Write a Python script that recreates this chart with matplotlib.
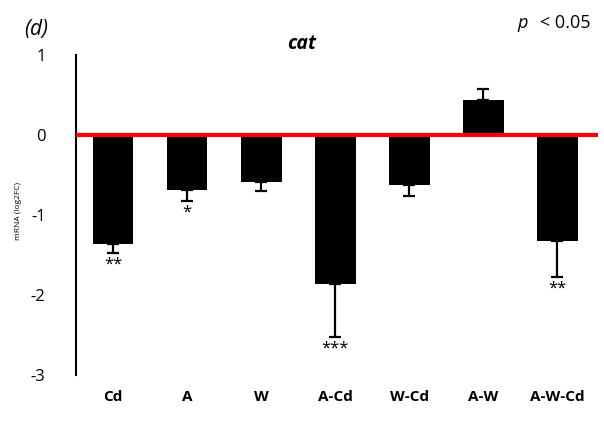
import matplotlib
matplotlib.use("Agg")
import matplotlib.pyplot as plt
import numpy as np

groups = ["Cd", "A", "W", "A-Cd", "W-Cd", "A-W", "A-W-Cd"]
log2fc = [-1.36, -0.68, -0.58, -1.86, -0.62, 0.44, -1.32]
errors = [0.11, 0.14, 0.12, 0.66, 0.14, 0.14, 0.45]
stars = ["**", "*", "", "***", "", "", "**"]

plt.rcParams["font.family"] = ["Open Sans", "DejaVu Sans"]

fig = plt.figure(figsize=(6.04, 4.21), dpi=100)
ax = fig.add_axes([0.126, 0.109, 0.864, 0.76])

x = np.arange(len(groups))
vals = np.array(log2fc)
errs = np.array(errors)
lower = np.where(vals < 0, errs, 0)
upper = np.where(vals >= 0, errs, 0)

ax.bar(x, vals, width=0.55, color="black", zorder=2)
ax.errorbar(x, vals, yerr=[lower, upper], fmt="none", ecolor="black",
            elinewidth=1.6, capsize=4.5, capthick=1.6, zorder=3)
ax.axhline(0, color="red", lw=3, zorder=4)

for xi, v, e, s in zip(x, vals, errs, stars):
    if s:
        ax.annotate(s, (xi, v - e), xytext=(0, -3), textcoords="offset points",
                    ha="center", va="top", fontsize=12)

ax.set_xlim(-0.5, len(groups) - 0.45)
ax.set_ylim(-3, 1)
ax.set_yticks([-3, -2, -1, 0, 1])
ax.set_yticklabels(["-3", "-2", "-1", "0", "1"], fontsize=12)
ax.tick_params(axis="y", length=0, pad=22)
ax.set_xticks([])
for xi, g in zip(x, groups):
    ax.text(xi, -3.27, g, ha="center", va="center", fontsize=11, fontweight="bold")

for side in ["top", "right", "bottom"]:
    ax.spines[side].set_visible(False)
ax.spines["left"].set_linewidth(1.5)

fig.text(0.03, 0.5, "mRNA (log2FC)", rotation=90, ha="center", va="center", fontsize=6)
fig.text(0.5, 0.895, "cat", ha="center", va="center", fontsize=14,
         fontweight="bold", fontstyle="italic")
fig.text(0.04, 0.93, "(d)", ha="left", va="center", fontsize=15, fontstyle="italic")
fig.text(0.978, 0.945, "< 0.05", ha="right", va="center", fontsize=13)
fig.text(0.874, 0.945, "p", ha="right", va="center", fontsize=13, fontstyle="italic")

fig.savefig("out.png", dpi=100)
